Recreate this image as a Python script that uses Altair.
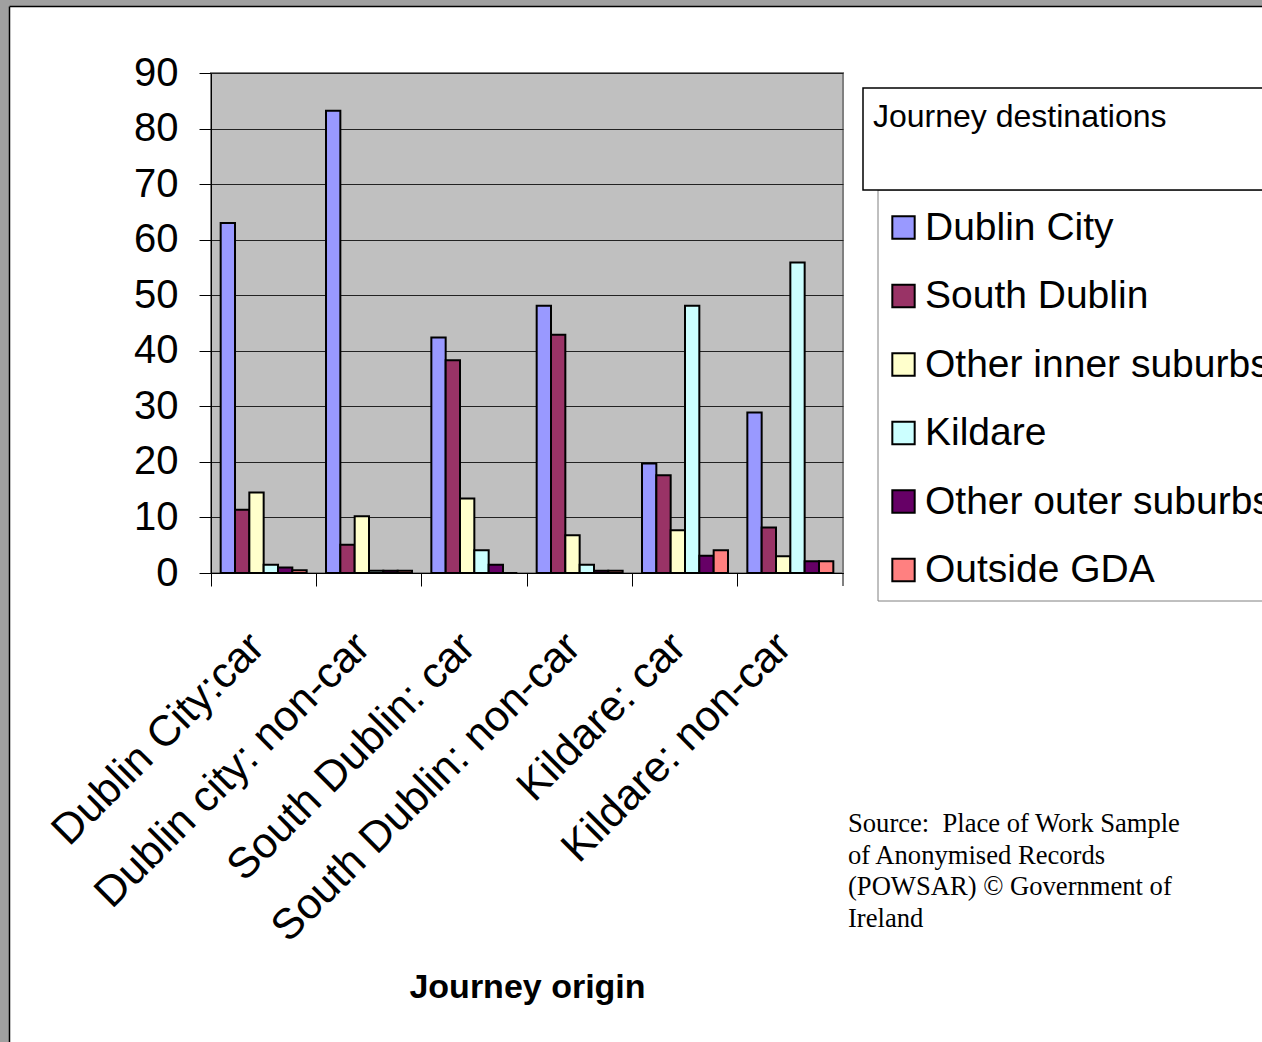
import altair as alt
import pandas as pd

# Journey origins (x categories) and destinations (series)
origins = [
    "Dublin City:car",
    "Dublin city: non-car",
    "South Dublin: car",
    "South Dublin: non-car",
    "Kildare: car",
    "Kildare: non-car",
]
destinations = [
    "Dublin City",
    "South Dublin",
    "Other inner suburbs",
    "Kildare",
    "Other outer suburbs",
    "Outside GDA",
]
dest_colors = ["#9999FF", "#993366", "#FFFFCC", "#CCFFFF", "#660066", "#FF8080"]

# Share of journeys (%) going to each destination, one list per origin
dublin_city_car = [63.0, 11.4, 14.5, 1.5, 1.0, 0.5]
dublin_city_noncar = [83.2, 5.1, 10.2, 0.4, 0.4, 0.4]
south_dublin_car = [42.4, 38.3, 13.4, 4.1, 1.5, 0.0]
south_dublin_noncar = [48.1, 42.9, 6.8, 1.5, 0.4, 0.4]
kildare_car = [19.7, 17.6, 7.7, 48.1, 3.1, 4.1]
kildare_noncar = [28.9, 8.2, 3.0, 55.9, 2.1, 2.1]

y_ticks = [0, 10, 20, 30, 40, 50, 60, 70, 80, 90]

legend_title = "Journey destinations"
x_title = "Journey origin"
source_lines = [
    "Source:\u00a0 Place of Work Sample",
    "of Anonymised Records",
    "(POWSAR) \u00a9 Government of",
    "Ireland",
]

series_by_origin = [
    dublin_city_car,
    dublin_city_noncar,
    south_dublin_car,
    south_dublin_noncar,
    kildare_car,
    kildare_noncar,
]
rows = []
for origin, values in zip(origins, series_by_origin):
    for dest, v in zip(destinations, values):
        rows.append({"origin": origin, "destination": dest, "share": v})
df = pd.DataFrame(rows)

W, H = 632, 500
PAD_L, PAD_T = 211, 73
CANVAS_W, CANVAS_H = 1262, 1042

AXIS_FONT = "Liberation Sans"
LEGEND_FONT = "Liberation Sans"

one = pd.DataFrame({"k": [0]})

bars = alt.Chart(df).mark_bar(stroke="black", strokeWidth=2).encode(
    x=alt.X(
        "origin:N",
        sort=origins,
        scale=alt.Scale(paddingInner=0, paddingOuter=0),
        axis=alt.Axis(
            title=x_title,
            titleFont=AXIS_FONT,
            titleFontSize=34,
            titleFontWeight="bold",
            titleColor="black",
            titleBaseline="alphabetic",
            titleY=424,
            labelAngle=-45,
            labelAlign="right",
            labelBaseline="top",
            labelFont=AXIS_FONT,
            labelFontSize=43,
            labelColor="black",
            labelPadding=39,
            labelOffset=-21,
            labelLimit=1000,
            tickSize=13,
            tickColor="black",
            tickWidth=1,
            bandPosition=0,
            domainColor="black",
            domainWidth=1,
            grid=False,
        ),
    ),
    xOffset=alt.XOffset(
        "destination:N",
        sort=destinations,
        scale=alt.Scale(paddingInner=0, paddingOuter=0.675),
    ),
    y=alt.Y(
        "share:Q",
        scale=alt.Scale(domain=[0, 90], nice=False),
        axis=alt.Axis(
            values=y_ticks,
            title=None,
            labelFont=AXIS_FONT,
            labelFontSize=40,
            labelColor="black",
            labelPadding=21,
            tickSize=12,
            tickColor="black",
            tickWidth=1,
            domainColor="black",
            domainWidth=1,
            grid=True,
            gridColor="#222222",
            gridWidth=1,
        ),
    ),
    fill=alt.Fill(
        "destination:N",
        sort=destinations,
        scale=alt.Scale(domain=destinations, range=dest_colors),
        legend=alt.Legend(
            title=None,
            orient="none",
            legendX=673,
            legendY=135,
            symbolType="square",
            symbolSize=500,
            symbolStrokeColor="black",
            symbolStrokeWidth=2,
            labelFont=LEGEND_FONT,
            labelFontSize=39,
            labelColor="black",
            labelLimit=1000,
            labelOffset=2,
            rowPadding=28.5,
            padding=0,
        ),
    ),
)

# closing tick at the right end of the category axis
end_tick = alt.Chart(one).mark_rule(color="black", strokeWidth=1).encode(
    x=alt.value(W), y=alt.value(H), y2=alt.value(H + 13)
)

# frame around the legend entries, and the box holding the legend heading
entries_box = alt.Chart(one).mark_rect(fill="white", stroke="#808080", strokeWidth=1).encode(
    x=alt.value(667), x2=alt.value(CANVAS_W - PAD_L + 20),
    y=alt.value(117), y2=alt.value(528),
)
title_box = alt.Chart(one).mark_rect(fill="white", stroke="black", strokeWidth=1.5).encode(
    x=alt.value(652), x2=alt.value(CANVAS_W - PAD_L + 20),
    y=alt.value(15), y2=alt.value(117),
)
title_text = alt.Chart(pd.DataFrame({"t": [legend_title]})).mark_text(
    align="left", baseline="alphabetic", font=LEGEND_FONT, fontSize=32, color="black"
).encode(x=alt.value(662), y=alt.value(54), text="t:N")

source_text = alt.Chart(pd.DataFrame({"t": ["\n".join(source_lines)]})).mark_text(
    align="left", baseline="alphabetic", font="Liberation Serif", fontSize=26.6,
    lineHeight=31.7, lineBreak="\n", color="black"
).encode(x=alt.value(637), y=alt.value(759), text="t:N")

# grey window edge along the top and left
edge_top = alt.Chart(one).mark_rect(fill="#A0A0A0").encode(
    x=alt.value(-PAD_L), x2=alt.value(CANVAS_W - PAD_L),
    y=alt.value(-PAD_T), y2=alt.value(-PAD_T + 6),
)
edge_left = alt.Chart(one).mark_rect(fill="#A0A0A0").encode(
    x=alt.value(-PAD_L), x2=alt.value(-PAD_L + 9),
    y=alt.value(-PAD_T), y2=alt.value(CANVAS_H - PAD_T),
)
line_top = alt.Chart(one).mark_rule(color="black", strokeWidth=1.5).encode(
    x=alt.value(-PAD_L + 9.5), x2=alt.value(CANVAS_W - PAD_L),
    y=alt.value(-PAD_T + 6.5),
)
line_left = alt.Chart(one).mark_rule(color="black", strokeWidth=1.5).encode(
    x=alt.value(-PAD_L + 9.5),
    y=alt.value(-PAD_T + 6.5), y2=alt.value(CANVAS_H - PAD_T),
)

chart = alt.layer(
    edge_top, edge_left, line_top, line_left,
    bars, end_tick, entries_box, title_box, title_text, source_text,
).properties(
    width=W,
    height=H,
    background="white",
    padding={"left": PAD_L, "top": PAD_T, "right": CANVAS_W - PAD_L - W, "bottom": CANVAS_H - PAD_T - H},
    autosize=alt.AutoSizeParams(type="none"),
).configure_view(
    fill="#C0C0C0", stroke="#808080", strokeWidth=2
)

chart.save("out.html", embed_options={"renderer": "svg", "actions": False})
